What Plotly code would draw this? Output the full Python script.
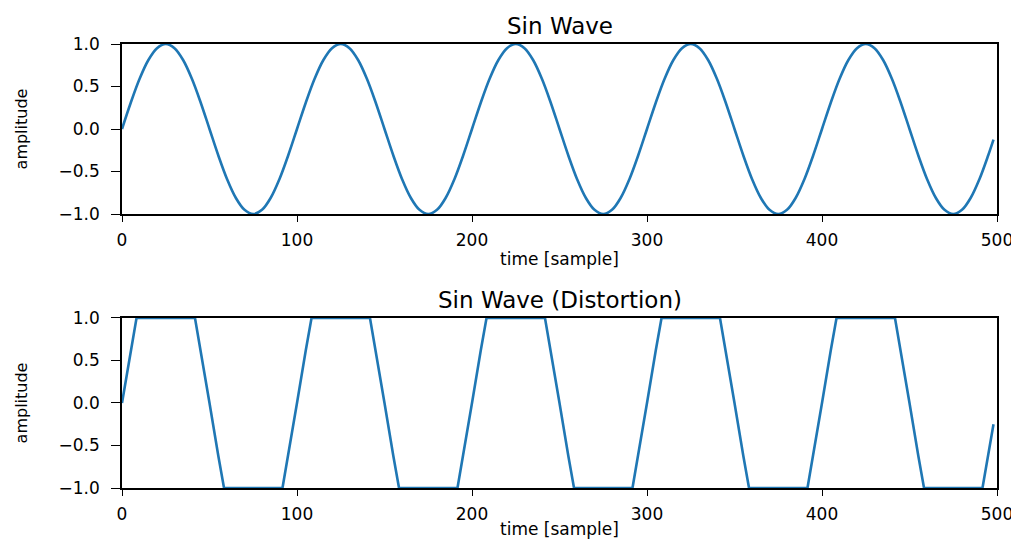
import plotly.graph_objects as go

# ---- data ----
top_x = [0, 5, 10, 15, 20, 25, 30, 35, 40, 45, 50, 55, 60, 65, 70, 75, 80, 85, 90, 95,
         100, 105, 110, 115, 120, 125, 130, 135, 140, 145, 150, 155, 160, 165, 170, 175, 180, 185, 190, 195,
         200, 205, 210, 215, 220, 225, 230, 235, 240, 245, 250, 255, 260, 265, 270, 275, 280, 285, 290, 295,
         300, 305, 310, 315, 320, 325, 330, 335, 340, 345, 350, 355, 360, 365, 370, 375, 380, 385, 390, 395,
         400, 405, 410, 415, 420, 425, 430, 435, 440, 445, 450, 455, 460, 465, 470, 475, 480, 485, 490, 495,
         498]
top_y = [0.0, 0.309, 0.588, 0.809, 0.951, 1.0, 0.951, 0.809, 0.588, 0.309,
         0.0, -0.309, -0.588, -0.809, -0.951, -1.0, -0.951, -0.809, -0.588, -0.309,
         0.0, 0.309, 0.588, 0.809, 0.951, 1.0, 0.951, 0.809, 0.588, 0.309,
         0.0, -0.309, -0.588, -0.809, -0.951, -1.0, -0.951, -0.809, -0.588, -0.309,
         0.0, 0.309, 0.588, 0.809, 0.951, 1.0, 0.951, 0.809, 0.588, 0.309,
         0.0, -0.309, -0.588, -0.809, -0.951, -1.0, -0.951, -0.809, -0.588, -0.309,
         0.0, 0.309, 0.588, 0.809, 0.951, 1.0, 0.951, 0.809, 0.588, 0.309,
         0.0, -0.309, -0.588, -0.809, -0.951, -1.0, -0.951, -0.809, -0.588, -0.309,
         0.0, 0.309, 0.588, 0.809, 0.951, 1.0, 0.951, 0.809, 0.588, 0.309,
         0.0, -0.309, -0.588, -0.809, -0.951, -1.0, -0.951, -0.809, -0.588, -0.309,
         -0.125]

dist_x = [0, 5, 8.3, 41.7, 45, 50, 55, 58.3, 91.7, 95,
          100, 105, 108.3, 141.7, 145, 150, 155, 158.3, 191.7, 195,
          200, 205, 208.3, 241.7, 245, 250, 255, 258.3, 291.7, 295,
          300, 305, 308.3, 341.7, 345, 350, 355, 358.3, 391.7, 395,
          400, 405, 408.3, 441.7, 445, 450, 455, 458.3, 491.7, 495,
          498]
dist_y = [0.0, 0.618, 1.0, 1.0, 0.618, 0.0, -0.618, -1.0, -1.0, -0.618,
          0.0, 0.618, 1.0, 1.0, 0.618, 0.0, -0.618, -1.0, -1.0, -0.618,
          0.0, 0.618, 1.0, 1.0, 0.618, 0.0, -0.618, -1.0, -1.0, -0.618,
          0.0, 0.618, 1.0, 1.0, 0.618, 0.0, -0.618, -1.0, -1.0, -0.618,
          0.0, 0.618, 1.0, 1.0, 0.618, 0.0, -0.618, -1.0, -1.0, -0.618,
          -0.25]

x_ticks = [0, 100, 200, 300, 400, 500]
y_ticks = [-1.0, -0.5, 0.0, 0.5, 1.0]
y_tick_text = ["\u22121.0", "\u22120.5", "0.0", "0.5", "1.0"]
titles = ["Sin Wave", "Sin Wave (Distortion)"]
x_label = "time [sample]"
y_label = "amplitude"

LINE = "#1f77b4"
FONT = "DejaVu Sans"

fig = go.Figure()
fig.add_trace(go.Scatter(x=top_x, y=top_y, mode="lines", line=dict(color=LINE, width=2.6, shape="spline"),
                         xaxis="x", yaxis="y", showlegend=False))
fig.add_trace(go.Scatter(x=dist_x, y=dist_y, mode="lines", line=dict(color=LINE, width=2.6),
                         xaxis="x2", yaxis="y2", showlegend=False))

axis_common = dict(showline=True, linecolor="black", linewidth=1.5, mirror=True,
                   ticks="outside", tickwidth=1.3, tickcolor="black",
                   showgrid=False, zeroline=False, automargin=False,
                   tickfont=dict(family=FONT, size=17, color="black"))

xa = dict(axis_common, range=[0, 500], tickvals=x_ticks, ticklen=6, ticklabelstandoff=4,
          title=dict(text=x_label, font=dict(family=FONT, size=17, color="black"), standoff=4))
ya = dict(axis_common, range=[-1, 1], tickvals=y_ticks, ticktext=y_tick_text, ticklen=9,
          ticklabelstandoff=8,
          title=dict(text=y_label, font=dict(family=FONT, size=16, color="black"), standoff=27))

# the page adds an 8px body margin, so the figure is 8px smaller and margins shifted
fig.update_layout(
    width=1011, height=531,
    margin=dict(l=114, r=22, t=36, b=51),
    paper_bgcolor="white", plot_bgcolor="white",
    xaxis=dict(xa, domain=[0, 1], anchor="y"),
    yaxis=dict(ya, domain=[0.6171, 1.0], anchor="x"),
    xaxis2=dict(xa, domain=[0, 1], anchor="y2"),
    yaxis2=dict(ya, domain=[0.0, 0.3829], anchor="x2"),
    showlegend=False,
    annotations=[
        dict(text=titles[0], x=0.5, y=1.0, xref="paper", yref="paper", xanchor="center", yanchor="bottom",
             yshift=3, showarrow=False, font=dict(family=FONT, size=23, color="black")),
        dict(text=titles[1], x=0.5, y=0.3829, xref="paper", yref="paper", xanchor="center", yanchor="bottom",
             yshift=3, showarrow=False, font=dict(family=FONT, size=23, color="black")),
    ],
)

fig.write_html("out.html")
